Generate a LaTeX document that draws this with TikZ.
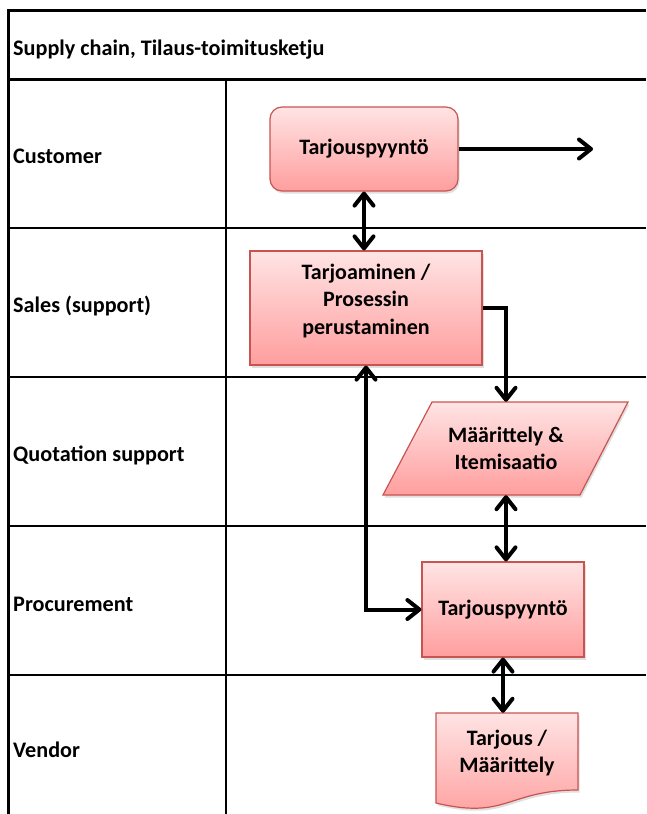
\documentclass[tikz,border=0pt]{standalone}
\usepackage{fontspec}
\setmainfont{Carlito}
\usetikzlibrary{arrows.meta,shadows}
\definecolor{boxtop}{RGB}{255,228,228}
\definecolor{boxbot}{RGB}{255,158,158}
\definecolor{boxline}{RGB}{200,84,82}
\begin{document}
\begin{tikzpicture}[x=1pt,y=-1pt,
  lanelabel/.style={font=\bfseries\fontsize{22.2}{26}\selectfont, anchor=base west, inner sep=0},
  shapefill/.style={top color=boxtop, bottom color=boxbot, draw=boxline, line width=1.2pt,
    drop shadow={shadow xshift=1.5pt, shadow yshift=-2.5pt, opacity=0.25}},
  boxtext/.style={inner sep=0, align=center, font=\bfseries\fontsize{22}{27.5}\selectfont},
  box/.style={shapefill, boxtext, rectangle},
  tip/.tip={Straight Barb[length=12pt,width=19pt,round]},
  arr/.style={line width=4pt, -tip},
  dbl/.style={line width=4pt, tip-tip},
  frameline/.style={line width=3pt},
  laneline/.style={line width=1.8pt}]

\useasboundingbox (0,0) rectangle (646,814);

% frame and swimlanes
\draw[frameline] (8,814) -- (8,10) -- (646,10);
\draw[frameline] (8,79) -- (646,79);
\draw[laneline] (226,79) -- (226,814);
\foreach \y in {228,377,526,675} \draw[laneline] (8,\y) -- (646,\y);

% headings
\node[lanelabel] (title) at (13,55) {Supply chain, Tilaus-toimitusketju};
\node[lanelabel] (lcust) at (13,163) {Customer};
\node[lanelabel] (lsales) at (13,312) {Sales (support)};
\node[lanelabel] (lquote) at (13,461) {Quotation support};
\node[lanelabel] (lproc) at (13,611) {Procurement};
\node[lanelabel] (lvend) at (13,757) {Vendor};

% process steps
\node[box, rounded corners=12pt, minimum width=188pt, minimum height=84pt] (cust) at (364,149) {Tarjouspyyntö};
\node[box, minimum width=232pt, minimum height=114pt] (sales) at (366,308) {};
\node[boxtext] (salestext) at (366,301) {Tarjoaminen /\\Prosessin\\perustaminen};

% data step (parallelogram)
\path[shapefill] (432,402) -- (628,402) -- (580,495) -- (383,495) -- cycle;
\node[boxtext, minimum width=150pt, minimum height=93pt] (spec) at (506,448.5) {Määrittely \&\\Itemisaatio};

\node[box, minimum width=162pt, minimum height=95pt] (proc) at (503,609.5) {Tarjouspyyntö};

% document step
\path[shapefill] (436,713) -- (578,713) -- (578,790) .. controls (507,790) and (507,820) .. (436,803) -- cycle;
\node[boxtext, minimum width=142pt, minimum height=80pt] (doc) at (507,753) {Tarjous /\\Määrittely};

% connectors
\coordinate (custout) at (593,149);
\draw[arr] (cust.east) -- (custout);
\draw[dbl] (cust.south) -- (cust.south |- sales.north);
\draw[arr] (sales.east) -| (spec.north);
\draw[dbl] (spec.south) -- (spec.south |- proc.north);
\draw[dbl] (sales.south) |- (proc.west);
\draw[dbl] (proc.south) -- (proc.south |- doc.north);
\end{tikzpicture}
\end{document}
